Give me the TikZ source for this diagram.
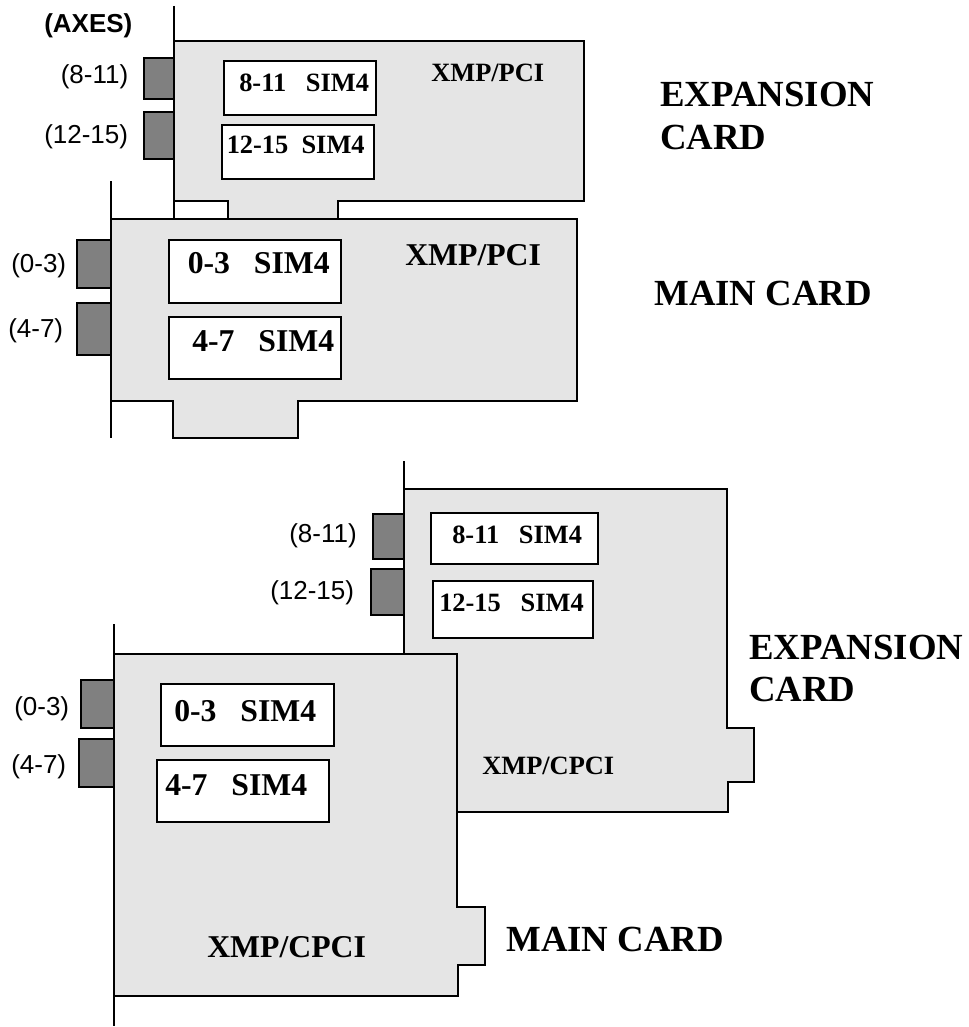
\documentclass[tikz,border=0pt]{standalone}
\usepackage{fontspec}
\setmainfont{Liberation Serif}
\newfontfamily\axesfont{Liberation Sans}
\usepackage{xcolor}
\usepackage{tikz}
\definecolor{boardgray}{HTML}{E5E5E5}
\definecolor{portgray}{HTML}{808080}
\tikzset{
    board/.style={draw=black, fill=boardgray, line width=1.3pt, line join=miter},
    port/.style={draw=black, fill=portgray, line width=1.3pt},
    simbox/.style={draw=black, fill=white, line width=1.3pt},
    bracket/.style={line width=1.3pt},
    axestxt/.style={anchor=base west, inner sep=0pt, font=\axesfont\fontsize{19.5}{21}\selectfont},
    simsmall/.style={anchor=base west, inner sep=0pt, font=\bfseries\fontsize{19.8}{22}\selectfont},
    simbig/.style={anchor=base west, inner sep=0pt, font=\bfseries\fontsize{23.8}{26}\selectfont},
    cardtxt/.style={anchor=base west, inner sep=0pt, font=\bfseries\fontsize{27.6}{30}\selectfont}
}

\begin{document}
\begin{tikzpicture}[x=0.75pt, y=-0.75pt]
    \useasboundingbox (0,0) rectangle (969,1027);

    % 1. Expansion card, PCI
    \draw[board] (174,41) -- (584,41) -- (584,201) -- (338,201) -- (338,219) -- (228,219) -- (228,201) -- (174,201) -- cycle;
    \draw[bracket] (174,6) -- (174,219);
    \foreach \xa/\ya/\yb in {144/58/99, 144/112/159} {
        \draw[port] (\xa,\ya) rectangle (174,\yb);
    }
    \draw[simbox] (224,61) rectangle (376,115);
    \draw[simbox] (222,125) rectangle (374,179);
    \node[axestxt, font=\axesfont\bfseries\fontsize{19.5}{21}\selectfont] (axes) at (44,33) {(AXES)};
    \node[axestxt] (pciexpa) at (60.5,83.5) {(8-11)};
    \node[axestxt] (pciexpb) at (44,144) {(12-15)};
    \node[simsmall] (pcisima) at (239,92) {8-11\ \ \ SIM4};
    \node[simsmall] (pcisimb) at (226.5,153) {12-15\ \ SIM4};
    \node[simsmall] (pciname) at (431,82) {XMP/PCI};
    \node[cardtxt] (pcititlea) at (660,107) {EXPANSION};
    \node[cardtxt] (pcititleb) at (660,150) {CARD};

    % 2. Main card, PCI
    \draw[board] (111,219) -- (577,219) -- (577,401) -- (298,401) -- (298,438) -- (173,438) -- (173,401) -- (111,401) -- cycle;
    \draw[bracket] (111,181) -- (111,438);
    \foreach \xa/\ya/\yb in {77/240/288, 77/303/355} {
        \draw[port] (\xa,\ya) rectangle (111,\yb);
    }
    \draw[simbox] (169,240) rectangle (341,303);
    \draw[simbox] (169,317) rectangle (341,379);
    \node[axestxt] (pcimaina) at (11,272) {(0-3)};
    \node[axestxt] (pcimainb) at (8,337) {(4-7)};
    \node[simbig] (pcisimc) at (187.5,273) {0-3\ \ \ SIM4};
    \node[simbig] (pcisimd) at (192,351) {4-7\ \ \ SIM4};
    \node[simbig] (pcinameb) at (405,265) {XMP/PCI};
    \node[cardtxt] (pcititlec) at (654,305) {MAIN CARD};

    % 3. Expansion card, CPCI
    \draw[board] (404,489) -- (727,489) -- (727,728) -- (754,728) -- (754,782) -- (728,782) -- (728,812) -- (404,812) -- cycle;
    \draw[bracket] (404,461) -- (404,653);
    \foreach \xa/\ya/\yb in {373/514/559, 371/569/615} {
        \draw[port] (\xa,\ya) rectangle (404,\yb);
    }
    \draw[simbox] (431,513) rectangle (598,564);
    \draw[simbox] (433,581) rectangle (593,638);
    \node[axestxt] (cpciexpa) at (289,542) {(8-11)};
    \node[axestxt] (cpciexpb) at (270,599) {(12-15)};
    \node[simsmall] (cpcisima) at (452,543) {8-11\ \ \ SIM4};
    \node[simsmall] (cpcisimb) at (439,611) {12-15\ \ \ SIM4};
    \node[simsmall] (cpciname) at (482,774) {XMP/CPCI};
    \node[cardtxt] (cpcititlea) at (749,659) {EXPANSION};
    \node[cardtxt] (cpcititleb) at (749,701) {CARD};

    % 4. Main card, CPCI
    \draw[board] (114,654) -- (457,654) -- (457,907) -- (485,907) -- (485,965) -- (458,965) -- (458,996) -- (114,996) -- cycle;
    \draw[bracket] (114,624) -- (114,1026);
    \foreach \xa/\ya/\yb in {81/680/728, 79/739/787} {
        \draw[port] (\xa,\ya) rectangle (114,\yb);
    }
    \draw[simbox] (161,684) rectangle (334,746);
    \draw[simbox] (157,760) rectangle (329,822);
    \node[axestxt] (cpcimaina) at (14,715) {(0-3)};
    \node[axestxt] (cpcimainb) at (11,773) {(4-7)};
    \node[simbig] (cpcisimc) at (174,721) {0-3\ \ \ SIM4};
    \node[simbig] (cpcisimd) at (165,795) {4-7\ \ \ SIM4};
    \node[simbig] (cpcinameb) at (207,957) {XMP/CPCI};
    \node[cardtxt] (cpcititlec) at (506,951) {MAIN CARD};
\end{tikzpicture}
\end{document}
